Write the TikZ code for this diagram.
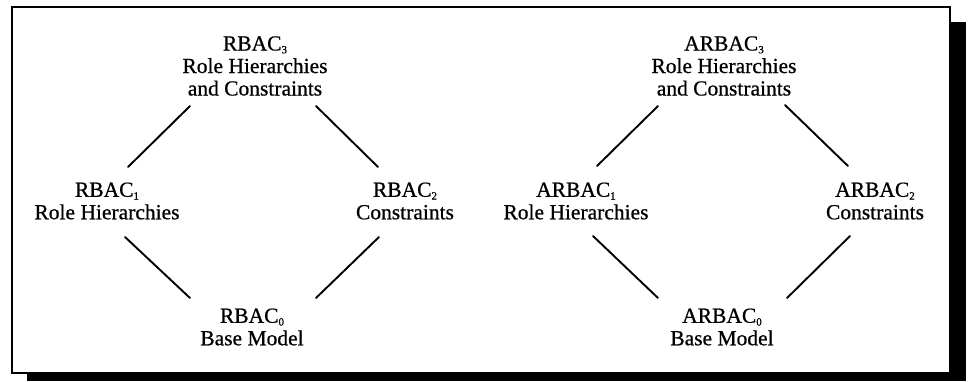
\documentclass[tikz,border=0pt]{standalone}
\usepackage{fontspec}
\setmainfont{Liberation Serif}
\newfontfamily\scanfont{Liberation Serif}[FakeBold=0.7]
\newcommand{\sbs}[1]{\raisebox{-0.28ex}{\fontsize{11}{11}\selectfont #1}}
\usetikzlibrary{calc}
\begin{document}
\begin{tikzpicture}[x=1pt,y=-1pt,
  lbl/.style={align=center,inner sep=0pt,font=\scanfont\fontsize{21.5}{22.5}\selectfont},
  conn/.style={line width=1.9pt,line cap=round}]
\useasboundingbox (0,0) rectangle (969,381);
\fill[white] (0,0) rectangle (969,381);
% shadow and frame
\fill[black] (27,22) rectangle (966,381);
\draw[fill=white,line width=1.6pt] (12,7) rectangle (950,373);
% left diagram
\node[lbl] (r3) at (255,66) {RBAC\sbs{3}\\Role Hierarchies\\and Constraints};
\node[lbl] (r1) at (107,201) {RBAC\sbs{1}\\Role Hierarchies};
\node[lbl] (r2) at (405,201) {RBAC\sbs{2}\\Constraints};
\node[lbl] (r0) at (252,327) {RBAC\sbs{0}\\Base Model};
\draw[conn] ($(r3)+(-65,40)$) -- ($(r1)+(21,-34)$);
\draw[conn] ($(r3)+(61,40)$) -- ($(r2)+(-27,-34)$);
\draw[conn] ($(r1)+(18,36)$) -- ($(r0)+(-62,-29)$);
\draw[conn] ($(r2)+(-26,36)$) -- ($(r0)+(64,-29)$);
% right diagram
\node[lbl] (a3) at (724,66) {ARBAC\sbs{3}\\Role Hierarchies\\and Constraints};
\node[lbl] (a1) at (576,201) {ARBAC\sbs{1}\\Role Hierarchies};
\node[lbl] (a2) at (875,201) {ARBAC\sbs{2}\\Constraints};
\node[lbl] (a0) at (722,327) {ARBAC\sbs{0}\\Base Model};
\draw[conn] ($(a3)+(-66,40)$) -- ($(a1)+(21,-35)$);
\draw[conn] ($(a3)+(61,39)$) -- ($(a2)+(-27,-35)$);
\draw[conn] ($(a1)+(17,35)$) -- ($(a0)+(-64,-29)$);
\draw[conn] ($(a2)+(-25,35)$) -- ($(a0)+(65,-29)$);
\end{tikzpicture}
\end{document}
